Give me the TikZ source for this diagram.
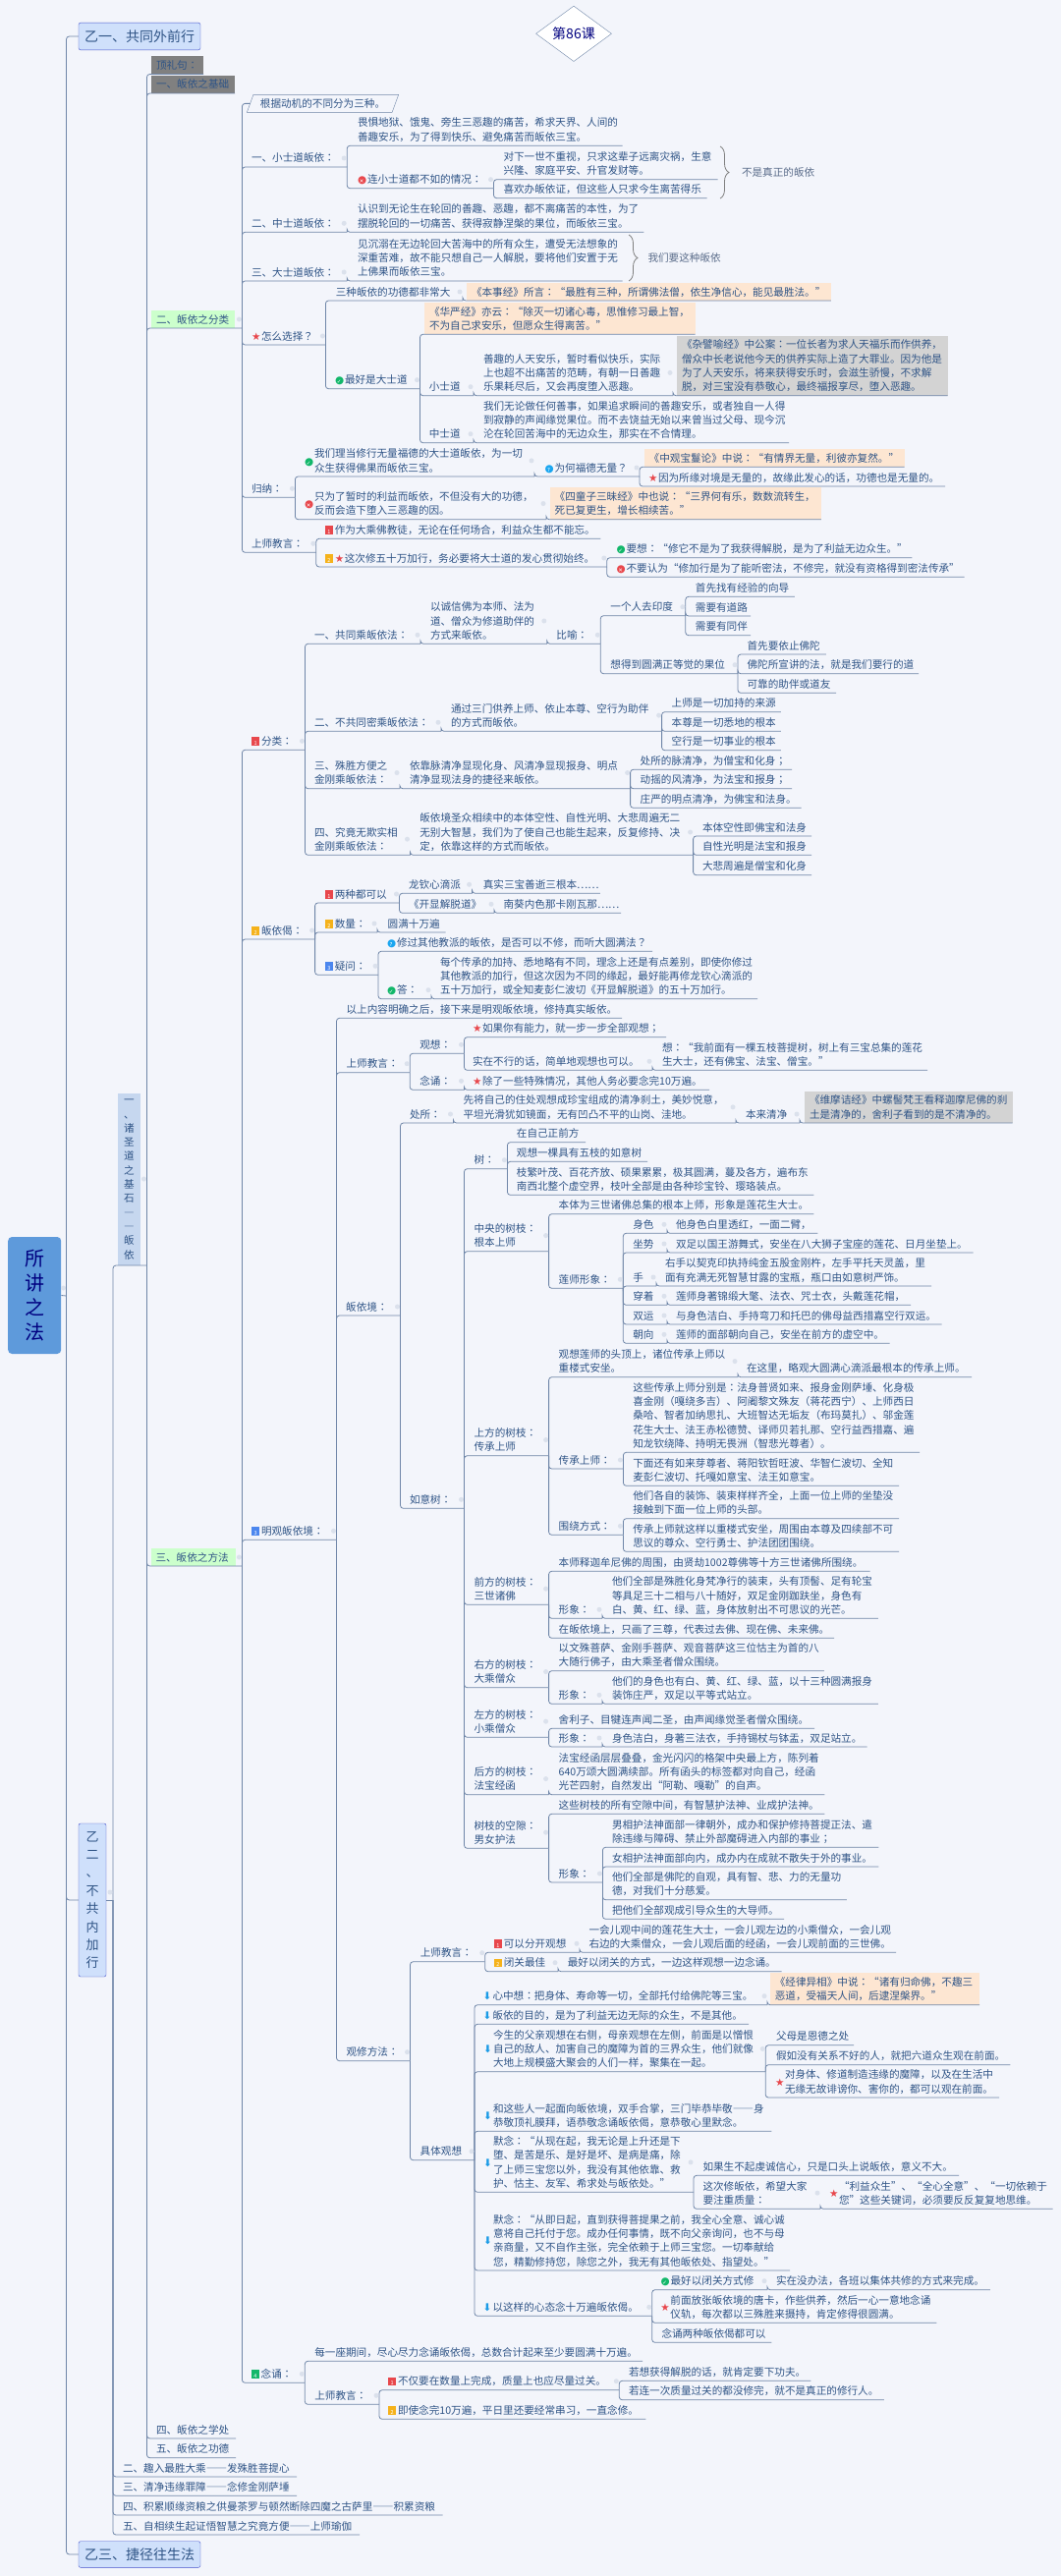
\documentclass[tikz,border=0pt]{standalone}
\usepackage{fontspec}
\usepackage{xcolor}
\usetikzlibrary{shapes.geometric,decorations.pathreplacing}
\setmainfont[RawFeature=+fwid]{Noto Sans CJK SC}
\newfontfamily\halfdigits{Noto Sans CJK SC}
\newfontfamily\dejavu{DejaVu Sans}

\definecolor{bgc}{HTML}{F3F5FB}
\definecolor{linec}{HTML}{6F86A8}
\definecolor{txt}{HTML}{2F5486}
\definecolor{sumtxt}{HTML}{5A6C8A}
\definecolor{citec}{HTML}{FDE6D2}
\definecolor{notec}{HTML}{D3D3D3}
\definecolor{mossc}{HTML}{808080}
\definecolor{leafc}{HTML}{CCFFCC}
\definecolor{topc}{HTML}{CFE0FB}
\definecolor{vertc}{HTML}{C6D7EF}
\definecolor{rootc}{HTML}{5E9ADB}
\definecolor{ired}{HTML}{E8474C}
\definecolor{igreen}{HTML}{12B76A}
\definecolor{iblue}{HTML}{1AA6F0}
\definecolor{iorange}{HTML}{F5B21B}
\definecolor{ibluen}{HTML}{4B86EE}
\definecolor{iarrow}{HTML}{1A9BE6}

\newcommand{\icc}[2]{\makebox[10pt][l]{\rlap{\textcolor{#1}{\dejavu\fontsize{10.5}{10.5}\selectfont ●}}\makebox[8.2pt]{\textcolor{white}{\dejavu\fontsize{5.5}{5.5}\selectfont #2}}}}
\newcommand{\icn}[2]{\makebox[10pt][l]{\textcolor{#1}{\rule[-0.6pt]{8.4pt}{8.8pt}}\llap{\makebox[8.4pt]{\textcolor{white}{\halfdigits\fontsize{5.5}{5.5}\selectfont #2}}}}}
\newcommand{\icok}{\icc{igreen}{✓}}
\newcommand{\icno}{\icc{ired}{✕}}
\newcommand{\icask}{\icc{iblue}{?}}
\newcommand{\icstar}{\makebox[10pt][l]{\textcolor{ired}{\dejavu\fontsize{10.5}{10.5}\selectfont ★}}}
\newcommand{\icdown}{\makebox[10pt][l]{\textcolor{iarrow}{\dejavu\fontsize{10.5}{10.5}\selectfont ⬇}}}
\newcommand{\hangup}[1]{\leavevmode\llap{\raisebox{7pt}[0pt][0pt]{#1}}}
\newcommand{\hangmid}[1]{\leavevmode\llap{#1}}
\newcommand{\branch}[2]{%
  \foreach \kid in {#2} {\draw[link] (#1.south east) |- (\kid.south east);}
  \fill[fold] ([xshift=-3pt]#1.east) circle (2.5pt);
}

\begin{document}
\begin{tikzpicture}[x=1pt,y=-1pt]
  \path[use as bounding box,fill=bgc] (0,0) rectangle (1080,2622);

  \node[rounded corners=4pt,fill=rootc,minimum width=54pt,minimum height=119pt,text=blue!50!black,align=center,font=\fontsize{20}{25}\selectfont] (root) at (35.2,1318.5) {所\\讲\\之\\法};
  \node[diamond,draw=linec,fill=white,minimum width=77pt,minimum height=51pt,inner sep=0pt,text=blue!50!black,font=\fontsize{14}{16}\selectfont] (lesson) at (584,34.3) {第{\halfdigits 86}课};

  \begin{scope}[every node/.style={rounded corners=2pt,draw=blue!40!linec,fill=topc,text=txt,align=center,inner sep=0pt}]
      \node[minimum width=124pt,minimum height=27.7pt,font=\fontsize{14}{16}\selectfont] (yiyi) at (142,37) {乙一、共同外前行};
      \node[minimum width=28pt,minimum height=156pt,font=\fontsize{13}{18.4}\selectfont] (yier) at (94,1934) {乙\\二\\、\\不\\共\\内\\加\\行};
      \node[minimum width=124pt,minimum height=26.6pt,font=\fontsize{14}{16}\selectfont] (yisan) at (142,2600) {乙三、捷径往生法};
  \end{scope}
  \node[fill=vertc,text=txt,minimum width=22.7pt,minimum height=175pt,inner sep=0pt,align=center,font=\fontsize{10.6}{14.3}\selectfont] (base) at (131.4,1200.5) {一\\、\\诸\\圣\\道\\之\\基\\石\\—\\—\\皈\\依};

  \tikzset{
    wd/.style={text width=#1pt},
    cite/.style={fill=citec,inner xsep=5pt},
    note/.style={fill=notec,inner xsep=5pt},
    moss/.style={fill=mossc,inner xsep=5pt},
    leaf/.style={fill=leafc,inner xsep=5pt},
    sumup/.style={text=sumtxt},
    tick/.style={anchor=south east,inner sep=0pt,minimum width=0pt,minimum height=18pt},
    para/.style={trapezium,trapezium left angle=70,trapezium right angle=110,draw=linec,anchor=center,inner xsep=7pt},
  }

  \begin{scope}[every node/.style={anchor=south west,inner xsep=0pt,inner ysep=1pt,outer sep=0pt,align=left,text=txt,
      font=\fontsize{10.6}{14.3}\selectfont,
      execute at begin node={\rule{0pt}{12pt}},execute at end node={\rule[-4pt]{0pt}{4pt}}}]
      \node[tick,minimum height=0pt] (rootj) at (67.5,1319) {};
      \node[tick,minimum height=0pt] (yierj) at (115,1934) {};
      \node[tick,minimum height=176pt] (basej) at (149.5,1288) {};
      \node[moss,wd=43] (dl) at (154,75.5) {顶礼句:};
      \node[moss,wd=75] (jc) at (154,95) {一、皈依之基础};
      \node[leaf,wd=75] (fl) at (154,334) {二、皈依之分类};
      \node[tick] (flj) at (246.4,334) {};
      \node[leaf,wd=76] (ff) at (153.5,1594) {三、皈依之方法};
      \node[tick] (ffj) at (246.4,1594) {};
      \node[wd=81] (xc) at (159,2482) {四、皈依之学处};
      \node[wd=81] (gd) at (159,2501.7) {五、皈依之功德};
      \node[wd=177] (qr) at (125,2521) {二、趣入最胜大乘——发殊胜菩提心};
      \node[wd=177] (qj) at (125,2540.3) {三、清净违缘罪障——念修金刚萨埵};
      \node[wd=325.7] (jl) at (125,2560) {四、积累顺缘资粮之供曼茶罗与顿然断除四魔之古萨里——积累资粮};
      \node[wd=241] (zx) at (125,2580) {五、自相续生起证悟智慧之究竟方便——上师瑜伽};

      \node[para] (f0) at (328.5,105.4) {根据动机的不同分为三种。};
      \node[wd=97.2] (f1) at (256,170) {一、小士道皈依:};
      \node[wd=269.7] (f1a) at (364,148.3) {畏惧地狱、饿鬼、旁生三恶趣的痛苦,希求天界、人间的\\善趣安乐,为了得到快乐、避免痛苦而皈依三宝。};
      \node[wd=138.5] (f1b) at (364,191.7) {\icno 连小士道都不如的情况:};
      \node[wd=218] (f1b1) at (512.5,182.7) {对下一世不重视,只求这辈子远离灾祸,生意\\兴隆、家庭平安、升官发财等。};
      \node[wd=207] (f1b2) at (512.5,201.7) {喜欢办皈依证,但这些人只求今生离苦得乐};
      \node[sumup,wd=90] (sum1) at (755,184.7) {不是真正的皈依};
      \node[wd=97.2] (f2) at (256,236.3) {二、中士道皈依:};
      \node[wd=291.4] (f2a) at (364,236.3) {认识到无论生在轮回的善趣、恶趣,都不离痛苦的本性,为了\\摆脱轮回的一切痛苦、获得寂静涅槃的果位,而皈依三宝。};
      \node[wd=97.2] (f3) at (256,286) {三、大士道皈依:};
      \node[wd=269.7] (f3a) at (364,286) {见沉溺在无边轮回大苦海中的所有众生,遭受无法想象的\\深重苦难,故不能只想自己一人解脱,要将他们安置于无\\上佛果而皈依三宝。};
      \node[sumup,wd=90] (sum2) at (659.5,271.7) {我们要这种皈依};
      \node[wd=75.4] (f4) at (256,351) {\icstar 怎么选择?};
      \node[wd=129.2] (f4a) at (341.8,306) {三种皈依的功德都非常大};
      \node[cite,wd=360.8] (f4a1) at (475,306) {《本事经》所言:“最胜有三种,所谓佛法僧,依生净信心,能见最胜法。”};
      \node[wd=86.5] (f4b) at (341,395.7) {\icok 最好是大士道};
      \node[cite,wd=265.7] (f4b1) at (432,340.3) {《华严经》亦云:“除灭一切诸心毒,思惟修习最上智,\\不为自己求安乐,但愿众生得离苦。”};
      \node[wd=45.2] (f4b2) at (436.8,402.7) {小士道};
      \node[wd=193] (f4b21) at (492,402.7) {善趣的人天安乐,暂时看似快乐,实际\\上也超不出痛苦的范畴,有朝一日善趣\\乐果耗尽后,又会再度堕入恶趣。};
      \node[note,wd=265.6] (f4b22) at (689,402.7) {《杂譬喻经》中公案:一位长者为求人天福乐而作供养,\\僧众中长老说他今天的供养实际上造了大罪业。因为他是\\为了人天安乐,将来获得安乐时,会滋生骄慢,不求解\\脱,对三宝没有恭敬心,最终福报享尽,堕入恶趣。};
      \node[wd=45.2] (f4b3) at (436.8,450.7) {中士道};
      \node[wd=311] (f4b31) at (492,450.7) {我们无论做任何善事,如果追求瞬间的善趣安乐,或者独自一人得\\到寂静的声闻缘觉果位。而不去饶益无始以来曾当过父母、现今沉\\沦在轮回苦海中的无边众生,那实在不合情理。};
      \node[wd=44.4] (f5) at (256,506.3) {归纳:};
      \node[wd=224] (f5a) at (320,485) {我们理当修行无量福德的大士道皈依,为一切\\\hangup{\icok}众生获得佛果而皈依三宝。};
      \node[wd=96.4] (f5a1) at (554.6,485) {\icask 为何福德无量?};
      \node[cite,wd=254.8] (f5a11) at (655.7,475.3) {《中观宝鬘论》中说:“有情界无量,利彼亦复然。”};
      \node[wd=302] (f5a12) at (660,495) {\icstar 因为所缘对境是无量的,故缘此发心的话,功德也是无量的。};
      \node[wd=236] (f5b) at (320,528.7) {只为了暂时的利益而皈依,不但没有大的功德,\\\hangup{\icno}反而会造下堕入三恶趣的因。};
      \node[cite,wd=266.1] (f5b1) at (559.7,528.7) {《四童子三昧经》中也说:“三界何有乐,数数流转生,\\死已复更生,增长相续苦。”};
      \node[wd=65.8] (f6) at (256,562.3) {上师教言:};
      \node[wd=280.5] (f6a) at (330.8,548.3) {\icn{ired}{1}作为大乘佛教徒,无论在任何场合,利益众生都不能忘。};
      \node[wd=287] (f6b) at (330.8,577) {\icn{iorange}{2}\icstar 这次修五十万加行,务必要将大士道的发心贯彻始终。};
      \node[wd=300.8] (f6b1) at (627.6,567.7) {\icok 要想:“修它不是为了我获得解脱,是为了利益无边众生。”};
      \node[wd=354] (f6b2) at (627.6,587.3) {\icno 不要认为“修加行是为了能听密法,不修完,就没有资格得到密法传承”};

      \node[wd=54.5] (m1) at (256,763.3) {\icn{ired}{1}分类:};
      \node[wd=108] (m1a) at (320,655.3) {一、共同乘皈依法:};
      \node[wd=118.8] (m1a1) at (438,655.3) {以诚信佛为本师、法为\\道、僧众为修道助伴的\\方式来皈依。};
      \node[wd=44.9] (m1a2) at (566.4,655.3) {比喻:};
      \node[wd=76.4] (m1a21) at (621.4,626.7) {一个人去印度};
      \node[wd=101] (p1) at (707.9,607.3) {首先找有经验的向导};
      \node[wd=56.1] (p2) at (707.9,627) {需要有道路};
      \node[wd=56.1] (p3) at (707.9,646.7) {需要有同伴};
      \node[wd=129.6] (m1a22) at (621.4,685.7) {想得到圆满正等觉的果位};
      \node[wd=80.2] (q1) at (760.6,666) {首先要依止佛陀};
      \node[wd=174.4] (q2) at (760.6,685.7) {佛陀所宣讲的法,就是我们要行的道};
      \node[wd=90.4] (q3) at (760.6,705.3) {可靠的助伴或道友};
      \node[wd=129] (m1b) at (320,744.3) {二、不共同密乘皈依法:};
      \node[wd=214.6] (m1b1) at (459,744.3) {通过三门供养上师、依止本尊、空行为助伴\\的方式而皈依。};
      \node[wd=111.1] (r1) at (683.7,724.7) {上师是一切加持的来源};
      \node[wd=111.1] (r2) at (683.7,744.3) {本尊是一切悉地的根本};
      \node[wd=111.1] (r3) at (683.7,763.7) {空行是一切事业的根本};
      \node[wd=87] (m1c) at (320,802.7) {三、殊胜方便之\\金刚乘皈依法:};
      \node[wd=224.6] (m1c1) at (417,802.7) {依靠脉清净显现化身、风清净显现报身、明点\\清净显现法身的捷径来皈依。};
      \node[wd=154.3] (s1) at (651.7,783.3) {处所的脉清净,为僧宝和化身;};
      \node[wd=154.3] (s2) at (651.7,802.7) {动摇的风清净,为法宝和报身;};
      \node[wd=163.9] (s3) at (651.7,822.3) {庄严的明点清净,为佛宝和法身。};
      \node[wd=97.5] (m1d) at (320,870.3) {四、究竟无欺实相\\金刚乘皈依法:};
      \node[wd=278.3] (m1d1) at (427.3,870.3) {皈依境圣众相续中的本体空性、自性光明、大悲周遍无二\\无别大智慧,我们为了使自己也能生起来,反复修持、决\\定,依靠这样的方式而皈依。};
      \node[wd=111] (u1) at (715,851) {本体空性即佛宝和法身};
      \node[wd=111] (u2) at (715,870.3) {自性光明是法宝和报身};
      \node[wd=111] (u3) at (715,890.7) {大悲周遍是僧宝和化身};

      \node[wd=64.6] (m2) at (256,956) {\icn{iorange}{2}皈依偈:};
      \node[wd=75.7] (m2a) at (330.8,919) {\icn{ired}{1}两种都可以};
      \node[wd=64.6] (m2a1) at (416,909.3) {龙钦心滴派};
      \node[wd=119] (m2a11) at (491.8,909.3) {真实三宝善逝三根本……};
      \node[wd=87] (m2a2) at (416,929.3) {《开显解脱道》};
      \node[wd=119.4] (m2a21) at (512.6,929.3) {南葵内色那卡刚瓦那……};
      \node[wd=53.2] (m2b) at (330.8,949) {\icn{iorange}{2}数量:};
      \node[wd=58.9] (m2b1) at (394.7,949) {圆满十万遍};
      \node[wd=54.2] (m2c) at (330.8,992.3) {\icn{ibluen}{3}疑问:};
      \node[wd=270] (m2c1) at (394,968.3) {\icask 修过其他教派的皈依,是否可以不修,而听大圆满法?};
      \node[wd=45] (m2c2) at (394,1016.7) {\icok 答:};
      \node[wd=323] (m2c21) at (448,1016.7) {每个传承的加持、悉地略有不同,理念上还是有点差别,即使你修过\\其他教派的加行,但这次因为不同的缘起,最好能再修龙钦心滴派的\\五十万加行,或全知麦彭仁波切《开显解脱道》的五十万加行。};

      \node[wd=86.5] (m3) at (256,1567.3) {\icn{ibluen}{3}明观皈依境:};
      \node[wd=280.6] (m3a) at (352.6,1036.3) {以上内容明确之后,接下来是明观皈依境,修持真实皈依。};
      \node[wd=64.6] (m3b) at (352.6,1091.7) {上师教言:};
      \node[wd=45.2] (m3b1) at (427.3,1072.3) {观想:};
      \node[wd=197] (m3b11) at (481,1055.7) {\icstar 如果你有能力,就一步一步全部观想;};
      \node[wd=183] (m3b12) at (481,1089.3) {实在不行的话,简单地观想也可以。};
      \node[wd=270] (m3b121) at (674,1089.3) {想:“我前面有一棵五枝菩提树,树上有三宝总集的莲花\\生大士,还有佛宝、法宝、僧宝。”};
      \node[wd=45.2] (m3b2) at (427.3,1109.3) {念诵:};
      \node[wd=241] (m3b21) at (481,1109.3) {\icstar 除了一些特殊情况,其他人务必要念完{\halfdigits 10}万遍。};

      \node[wd=55.3] (m3c) at (352.2,1339) {皈依境:};
      \node[wd=44.5] (c1) at (417,1143) {处所:};
      \node[wd=277.4] (c11) at (471.6,1143) {先将自己的住处观想成珍宝组成的清净刹土,美妙悦意,\\平坦光滑犹如镜面,无有凹凸不平的山岗、洼地。};
      \node[wd=55] (c12) at (759,1143) {本来清净};
      \node[note,wd=201.5] (c13) at (819,1143) {《维摩诘经》中螺髻梵王看释迦摩尼佛的刹\\土是清净的,舍利子看到的是不清净的。};
      \node[wd=55.5] (c2) at (417,1535.3) {如意树:};

      \node[wd=33.8] (t1) at (482.6,1189.7) {树:};
      \node[wd=70.1] (t11) at (525.9,1162.7) {在自己正前方};
      \node[wd=133.3] (t12) at (525.9,1182.3) {观想一棵具有五枝的如意树};
      \node[wd=302.5] (t13) at (525.9,1216.3) {枝繁叶茂、百花齐放、硕果累累,极其圆满,蔓及各方,遍布东\\南西北整个虚空界,枝叶全部是由各种珍宝铃、璎珞装点。};
      \node[wd=76] (t2) at (482.6,1273.7) {中央的树枝:\\根本上师};
      \node[wd=259.7] (t21) at (568.7,1235.7) {本体为三世诸佛总集的根本上师,形象是莲花生大士。};
      \node[wd=65.6] (t22) at (568.7,1311.3) {莲师形象:};
      \node[wd=34.7] (h1) at (644.3,1255.3) {身色};
      \node[wd=144.3] (h1a) at (688,1255.3) {他身色白里透红,一面二臂,};
      \node[wd=34.7] (h2) at (644.3,1275) {坐势};
      \node[wd=302.5] (h2a) at (688,1275) {双足以国王游舞式,安坐在八大狮子宝座的莲花、日月坐垫上。};
      \node[wd=23.7] (h3) at (644.3,1309) {手};
      \node[wd=271] (h3a) at (677,1309) {右手以契克印执持纯金五股金刚杵,左手平托天灵盖,里\\面有充满无死智慧甘露的宝瓶,瓶口由如意树严饰。};
      \node[wd=34.7] (h4) at (644.3,1328.3) {穿着};
      \node[wd=239] (h4a) at (688,1328.3) {莲师身著锦缎大氅、法衣、咒士衣,头戴莲花帽,};
      \node[wd=34.7] (h5) at (644.3,1348) {双运};
      \node[wd=270.7] (h5a) at (688,1348) {与身色洁白、手持弯刀和托巴的佛母益西措嘉空行双运。};
      \node[wd=34.7] (h6) at (644.3,1367.3) {朝向};
      \node[wd=217.5] (h6a) at (688,1367.3) {莲师的面部朝向自己,安坐在前方的虚空中。};

      \node[wd=76] (t3) at (482.6,1481.7) {上方的树枝:\\传承上师};
      \node[wd=182.3] (t31) at (568.7,1401.7) {观想莲师的头顶上,诸位传承上师以\\重楼式安坐。};
      \node[wd=229] (t311) at (760,1401.7) {在这里,略观大圆满心滴派最根本的传承上师。};
      \node[wd=65.7] (t32) at (568.7,1495) {传承上师:};
      \node[wd=291.7] (t321) at (644.3,1478.3) {这些传承上师分别是:法身普贤如来、报身金刚萨埵、化身极\\喜金刚(嘎绕多吉)、阿阇黎文殊友(蒋花西宁)、上师西日\\桑哈、智者加纳思扎、大班智达无垢友(布玛莫扎)、邬金莲\\花生大士、法王赤松德赞、译师贝若扎那、空行益西措嘉、遍\\知龙钦绕降、持明无畏洲(智悲光尊者)。};
      \node[wd=270.7] (t322) at (644.3,1512.3) {下面还有如来芽尊者、蒋阳钦哲旺波、华智仁波切、全知\\麦彭仁波切、托嘎如意宝、法王如意宝。};
      \node[wd=65.7] (t33) at (568.7,1562.3) {围绕方式:};
      \node[wd=270.7] (t331) at (644.3,1545.7) {他们各自的装饰、装束样样齐全,上面一位上师的坐垫没\\接触到下面一位上师的头部。};
      \node[wd=270.7] (t332) at (644.3,1579.3) {传承上师就这样以重楼式安坐,周围由本尊及四续部不可\\思议的尊众、空行勇士、护法团团围绕。};

      \node[wd=76] (t4) at (482.6,1633.3) {前方的树枝:\\三世诸佛};
      \node[wd=317] (t41) at (568.7,1599.3) {本师释迦牟尼佛的周围,由贤劫{\halfdigits 1002}尊佛等十方三世诸佛所围绕。};
      \node[wd=44.3] (t42) at (568.7,1647.3) {形象:};
      \node[wd=270.8] (t421) at (623,1647.3) {他们全部是殊胜化身梵净行的装束,头有顶髻、足有轮宝\\等具足三十二相与八十随好,双足金刚跏趺坐,身色有\\白、黄、红、绿、蓝,身体放射出不可思议的光芒。};
      \node[wd=280.3] (t43) at (568.7,1667.3) {在皈依境上,只画了三尊,代表过去佛、现在佛、未来佛。};
      \node[wd=76] (t5) at (482.6,1717.7) {右方的树枝:\\大乘僧众};
      \node[wd=270.1] (t51) at (568.7,1700.7) {以文殊菩萨、金刚手菩萨、观音菩萨这三位怙主为首的八\\大随行佛子,由大乘圣者僧众围绕。};
      \node[wd=44.3] (t52) at (568.7,1734.3) {形象:};
      \node[wd=270.8] (t521) at (623,1734.3) {他们的身色也有白、黄、红、绿、蓝,以十三种圆满报身\\装饰庄严,双足以平等式站立。};
      \node[wd=76] (t6) at (482.6,1768.3) {左方的树枝:\\小乘僧众};
      \node[wd=260.3] (t61) at (568.7,1759.3) {舍利子、目犍连声闻二圣,由声闻缘觉圣者僧众围绕。};
      \node[wd=44.3] (t62) at (568.7,1778) {形象:};
      \node[wd=259.7] (t621) at (623,1778) {身色洁白,身著三法衣,手持锡杖与钵盂,双足站立。};
      \node[wd=76] (t7) at (482.6,1826.7) {后方的树枝:\\法宝经函};
      \node[wd=270.6] (t71) at (568.7,1826.7) {法宝经函层层叠叠,金光闪闪的格架中央最上方,陈列着\\{\halfdigits 640}万颂大圆满续部。所有函头的标签都对向自己,经函\\光芒四射,自然发出“阿勒、嘎勒”的自声。};
      \node[wd=76] (t8) at (482.6,1881.3) {树枝的空隙:\\男女护法};
      \node[wd=270.6] (t81) at (568.7,1846.3) {这些树枝的所有空隙中间,有智慧护法神、业成护法神。};
      \node[wd=44.7] (t82) at (568.7,1916) {形象:};
      \node[wd=271.4] (t821) at (623,1880.3) {男相护法神面部一律朝外,成办和保护修持菩提正法、遣\\除违缘与障碍、禁止外部魔碍进入内部的事业;};
      \node[wd=271.4] (t822) at (623,1900) {女相护法神面部向内,成办内在成就不散失于外的事业。};
      \node[wd=238.8] (t823) at (623,1933.7) {他们全部是佛陀的自观,具有智、悲、力的无量功\\德,对我们十分慈爱。};
      \node[wd=175] (t824) at (623,1953.3) {把他们全部观成引导众生的大导师。};

      \node[wd=64.9] (m3d) at (352.6,2097.7) {观修方法:};
      \node[wd=65.9] (g1) at (427.8,1996.7) {上师教言:};
      \node[wd=87.2] (g11) at (502.8,1987.3) {\icn{ired}{1}可以分开观想};
      \node[wd=312.5] (g111) at (599.5,1987.3) {一会儿观中间的莲花生大士,一会儿观左边的小乘僧众,一会儿观\\右边的大乘僧众,一会儿观后面的经函,一会儿观前面的三世佛。};
      \node[wd=65.2] (g12) at (502.8,2006.7) {\icn{iorange}{2}闭关最佳};
      \node[wd=217.7] (g121) at (577.8,2006.7) {最好以闭关的方式,一边这样观想一边念诵。};
      \node[wd=55.3] (g2) at (427.7,2198.7) {具体观想};
      \node[wd=289.5] (g21) at (491.5,2040.7) {\icdown 心中想:把身体、寿命等一切,全部托付给佛陀等三宝。};
      \node[cite,wd=203.2] (g211) at (783.8,2040.7) {《经律异相》中说:“诸有归命佛,不趣三\\恶道,受福天人间,后逮涅槃界。”};
      \node[wd=270.5] (g22) at (491.5,2060.3) {\icdown 皈依的目的,是为了利益无边无际的众生,不是其他。};
      \node[wd=277.2] (g23) at (502,2108.7) {今生的父亲观想在右侧,母亲观想在左侧,前面是以憎恨\\\hangmid{\icdown}自己的敌人、加害自己的魔障为首的三界众生,他们就像\\大地上规模盛大聚会的人们一样,聚集在一起。};
      \node[wd=79] (g231) at (790,2081.7) {父母是恩德之处};
      \node[wd=238.3] (g232) at (790,2101.7) {假如没有关系不好的人,就把六道众生观在前面。};
      \node[wd=218] (g233) at (799,2135) {对身体、修道制造违缘的魔障,以及在生活中\\\hangup{\icstar}无缘无故诽谤你、害你的,都可以观在前面。};
      \node[wd=283.3] (g24) at (502,2169.3) {和这些人一起面向皈依境,双手合掌,三门毕恭毕敬——身\\\hangup{\icdown}恭敬顶礼膜拜,语恭敬念诵皈依偈,意恭敬心里默念。};
      \node[wd=204] (g25) at (502,2231.3) {默念:“从现在起,我无论是上升还是下\\堕、是苦是乐、是好是坏、是病是痛,除\\\hangup{\icdown}了上师三宝您以外,我没有其他依靠、救\\护、怙主、友军、希求处与皈依处。”};
      \node[wd=260.5] (g251) at (715.5,2214.3) {如果生不起虔诚信心,只是口头上说皈依,意义不大。};
      \node[wd=119.5] (g252) at (715.5,2248.3) {这次修皈依,希望大家\\要注重质量:};
      \node[wd=217.6] (g2521) at (854,2248.3) {“利益众生”、“全心全意”、“一切依赖于\\\hangup{\icstar}您”这些关键词,必须要反反复复地思维。};
      \node[wd=302] (g26) at (502,2311) {默念:“从即日起,直到获得菩提果之前,我全心全意、诚心诚\\意将自己托付于您。成办任何事情,既不向父亲询问,也不与母\\\hangup{\icdown}亲商量,又不自作主张,完全依赖于上师三宝您。一切奉献给\\您,精勤修持您,除您之外,我无有其他皈依处、指望处。”};
      \node[wd=172.2] (g27) at (491.5,2357.3) {\icdown 以这样的心态念十万遍皈依偈。};
      \node[wd=108.4] (g271) at (672.6,2330.7) {\icok 最好以闭关方式修};
      \node[wd=217.8] (g2711) at (790,2330.7) {实在没办法,各班以集体共修的方式来完成。};
      \node[wd=270.9] (g272) at (682.4,2364.3) {前面放张皈依境的唐卡,作些供养,然后一心一意地念诵\\\hangup{\icstar}仪轨,每次都以三殊胜来摄持,肯定修得很圆满。};
      \node[wd=111.8] (g273) at (673.5,2384.3) {念诵两种皈依偈都可以};

      \node[wd=54.6] (m4) at (255.7,2425.3) {\icn{igreen}{4}念诵:};
      \node[wd=333.7] (m4a) at (320.3,2403.3) {每一座期间,尽心尽力念诵皈依偈,总数合计起来至少要圆满十万遍。};
      \node[wd=65.7] (m4b) at (320.3,2447.3) {上师教言:};
      \node[wd=235.3] (m4b1) at (395,2432.7) {\icn{ired}{1}不仅要在数量上完成,质量上也应尽量过关。};
      \node[wd=185.3] (m4b11) at (640,2423.3) {若想获得解脱的话,就肯定要下功夫。};
      \node[wd=259.8] (m4b12) at (640,2442.7) {若连一次质量过关的都没修完,就不是真正的修行人。};
      \node[wd=262.3] (m4b2) at (395,2462.3) {\icn{iorange}{2}即使念完{\halfdigits 10}万遍,平日里还要经常串习,一直念修。};
  \end{scope}

  \coordinate (b1t) at (733,149);
  \coordinate (b1b) at (733,202);
  \coordinate (b2t) at (640,239);
  \coordinate (b2b) at (640,286);

  \tikzset{link/.style={draw=linec,line width=0.8pt,rounded corners=3pt},
    fold/.style={fill=linec!18!bgc},
    curly/.style={draw=gray,line width=0.8pt,decorate,decoration={brace,amplitude=9pt}}}

  \draw[link] (root.east) -- (rootj.south east);
  \draw[link] (yier.east) -- (yierj.south east);
  \draw[link] (rootj.south east) |- (yiyi.west);
  \draw[link] (rootj.south east) |- (yier.west);
  \draw[link] (rootj.south east) |- (yisan.west);
  \fill[fold] ([xshift=-3pt]rootj.east) circle (2.5pt);

  \branch{yierj}{basej,qr,qj,jl,zx}
  \branch{basej}{dl,jc,flj,ffj,xc,gd}

  \draw[link] (flj.south east) |- (f0.west);
  \branch{flj}{f1,f2,f3,f4,f5,f6}
  \branch{f1}{f1a,f1b}
  \branch{f1b}{f1b1,f1b2}
  \branch{f2}{f2a}
  \branch{f3}{f3a}
  \branch{f4}{f4a,f4b}
  \branch{f4a}{f4a1}
  \branch{f4b}{f4b1,f4b2,f4b3}
  \branch{f4b2}{f4b21}
  \branch{f4b21}{f4b22}
  \branch{f4b3}{f4b31}
  \branch{f5}{f5a,f5b}
  \branch{f5a}{f5a1}
  \branch{f5a1}{f5a11,f5a12}
  \branch{f5b}{f5b1}
  \branch{f6}{f6a,f6b}
  \branch{f6b}{f6b1,f6b2}

  \draw[curly] (b1t) -- (b1b);
  \draw[curly] (b2t) -- (b2b);

  \branch{ffj}{m1,m2,m3,m4}
  \branch{m1}{m1a,m1b,m1c,m1d}
  \branch{m1a}{m1a1}
  \branch{m1a1}{m1a2}
  \branch{m1a2}{m1a21,m1a22}
  \branch{m1a21}{p1,p2,p3}
  \branch{m1a22}{q1,q2,q3}
  \branch{m1b}{m1b1}
  \branch{m1b1}{r1,r2,r3}
  \branch{m1c}{m1c1}
  \branch{m1c1}{s1,s2,s3}
  \branch{m1d}{m1d1}
  \branch{m1d1}{u1,u2,u3}

  \branch{m2}{m2a,m2b,m2c}
  \branch{m2a}{m2a1,m2a2}
  \branch{m2a1}{m2a11}
  \branch{m2a2}{m2a21}
  \branch{m2b}{m2b1}
  \branch{m2c}{m2c1,m2c2}
  \branch{m2c2}{m2c21}

  \branch{m3}{m3a,m3b,m3c,m3d}
  \branch{m3b}{m3b1,m3b2}
  \branch{m3b1}{m3b11,m3b12}
  \branch{m3b12}{m3b121}
  \branch{m3b2}{m3b21}
  \branch{m3c}{c1,c2}
  \branch{c1}{c11}
  \branch{c11}{c12}
  \branch{c12}{c13}
  \branch{c2}{t1,t2,t3,t4,t5,t6,t7,t8}
  \branch{t1}{t11,t12,t13}
  \branch{t2}{t21,t22}
  \branch{t22}{h1,h2,h3,h4,h5,h6}
  \branch{h1}{h1a}
  \branch{h2}{h2a}
  \branch{h3}{h3a}
  \branch{h4}{h4a}
  \branch{h5}{h5a}
  \branch{h6}{h6a}
  \branch{t3}{t31,t32,t33}
  \branch{t31}{t311}
  \branch{t32}{t321,t322}
  \branch{t33}{t331,t332}
  \branch{t4}{t41,t42,t43}
  \branch{t42}{t421}
  \branch{t5}{t51,t52}
  \branch{t52}{t521}
  \branch{t6}{t61,t62}
  \branch{t62}{t621}
  \branch{t7}{t71}
  \branch{t8}{t81,t82}
  \branch{t82}{t821,t822,t823,t824}

  \branch{m3d}{g1,g2}
  \branch{g1}{g11,g12}
  \branch{g11}{g111}
  \branch{g12}{g121}
  \branch{g2}{g21,g22,g23,g24,g25,g26,g27}
  \branch{g21}{g211}
  \branch{g23}{g231,g232,g233}
  \branch{g25}{g251,g252}
  \branch{g252}{g2521}
  \branch{g27}{g271,g272,g273}
  \branch{g271}{g2711}

  \branch{m4}{m4a,m4b}
  \branch{m4b}{m4b1,m4b2}
  \branch{m4b1}{m4b11,m4b12}
\end{tikzpicture}
\end{document}
